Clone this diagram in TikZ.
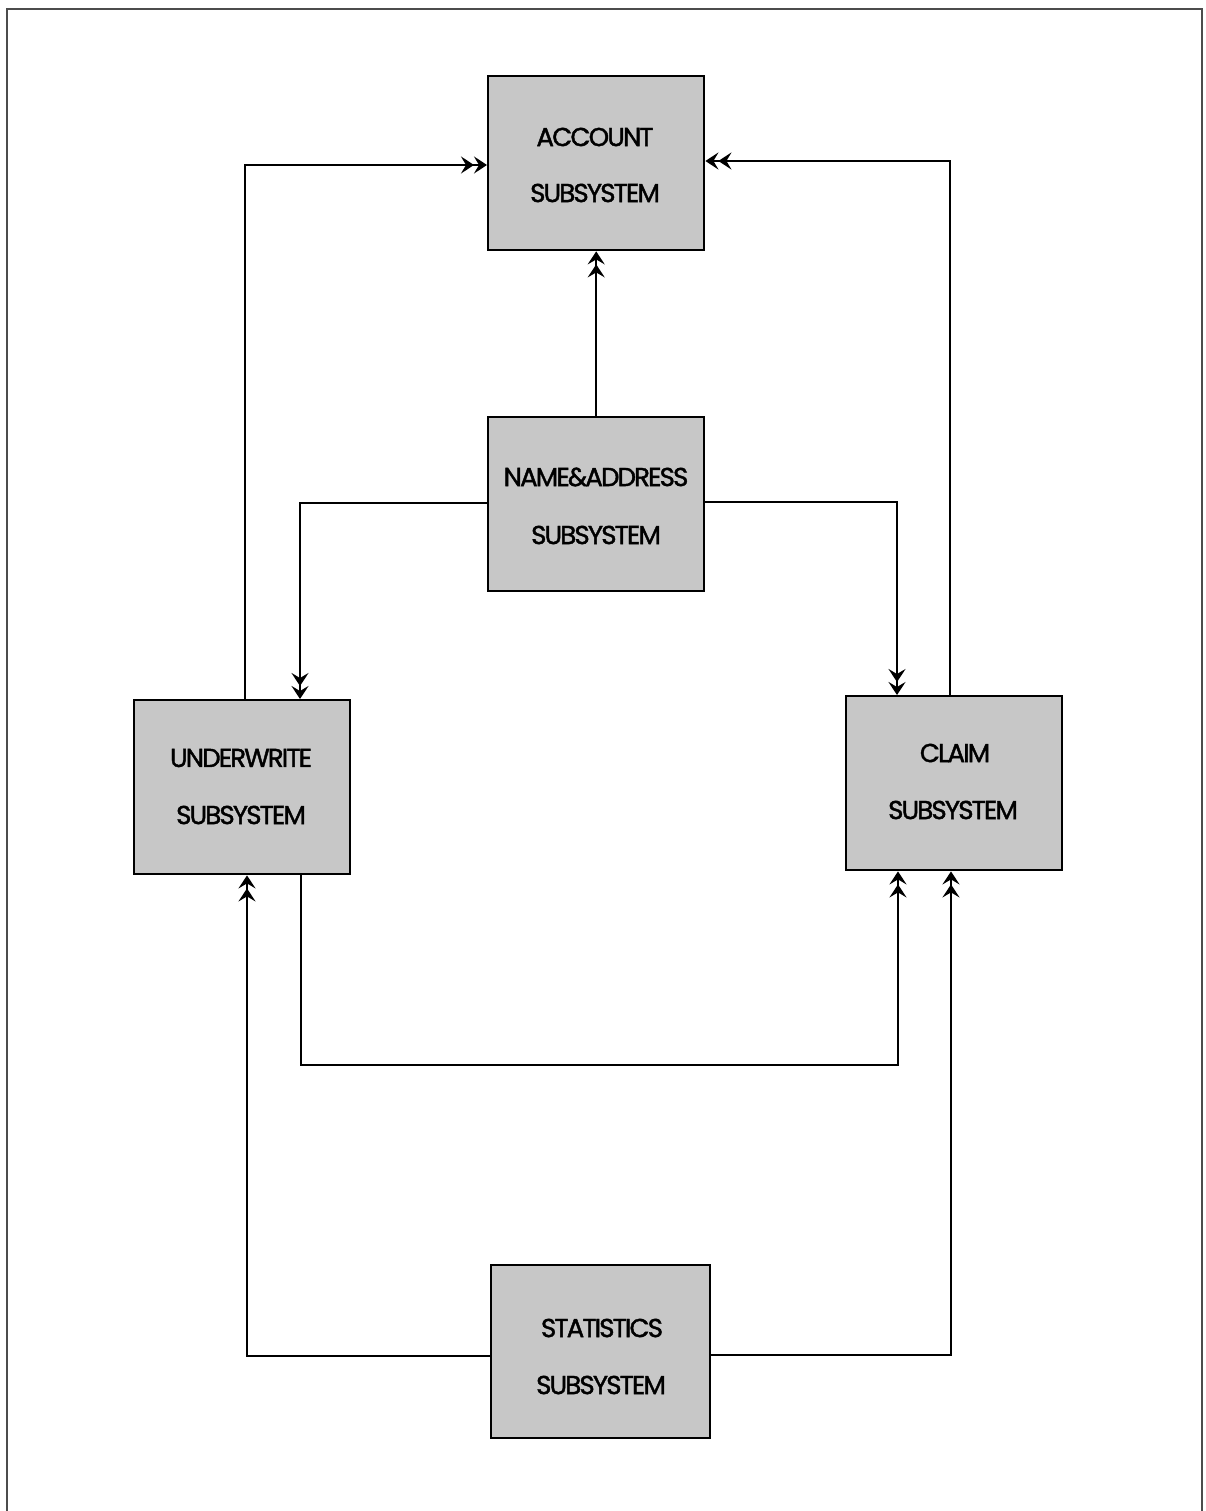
\documentclass[tikz,border=0pt]{standalone}
\usepackage{fontspec}
\setmainfont{Poppins}[FakeBold=1.6]
\usetikzlibrary{arrows.meta}
\begin{document}
\begin{tikzpicture}[x=1pt,y=-1pt,
  sbox/.style={draw=black,line width=2.4pt,fill=black!22,minimum width=216pt,minimum height=174pt,inner sep=0pt,anchor=north west},
  lbl/.style={font=\fontsize{26}{26}\selectfont\addfontfeatures{LetterSpace=-7},text=black},
  tip/.style={},
  conn/.style={line width=2pt,-{Stealth[length=13pt,width=17pt,inset=5pt,sep=0pt] Stealth[length=13pt,width=17pt,inset=5pt]}}]
\useasboundingbox (0,0) rectangle (1206,1511);
\draw[line width=2pt,black!70] (7,1511) -- (7,9) -- (1202,9) -- (1202,1511);
\node[sbox] (acc) at (487,75) {};
\node[sbox] (nam) at (487,416) {};
\node[sbox] (und) at (133,699) {};
\node[sbox] (clm) at (845,695) {};
\node[sbox,minimum width=219pt,minimum height=173pt] (sta) at (490,1264) {};
\node[lbl] (t1) at (595,137) {ACCOUNT};
\node[lbl] (t2) at (595,193) {SUBSYSTEM};
\node[lbl] (t3) at (596,477) {NAME\&ADDRESS};
\node[lbl] (t4) at (596,535) {SUBSYSTEM};
\node[lbl] (t5) at (241,758) {UNDERWRITE};
\node[lbl] (t6) at (241,815) {SUBSYSTEM};
\node[lbl] (t7) at (955,753) {CLAIM};
\node[lbl] (t8) at (953,810) {SUBSYSTEM};
\node[lbl] (t9) at (602,1328) {STATISTICS};
\node[lbl] (t10) at (601,1385) {SUBSYSTEM};
\coordinate (a1) at (245,165);
\coordinate (a2) at (950,161);
\coordinate (n1) at (300,503);
\coordinate (n2) at (897,502);
\coordinate (u1) at (301,1065);
\coordinate (u2) at (898,1065);
\coordinate (s1) at (247,1356);
\coordinate (s2) at (951,1355);
\draw[conn] (und.north west -| a1) -- (a1) -- (acc.west |- a1);
\draw[conn] (clm.north west -| a2) -- (a2) -- (acc.east |- a2);
\draw[conn] (nam.north) -- (acc.south);
\draw[conn] (nam.west |- n1) -- (n1) -- (und.north -| n1);
\draw[conn] (nam.east |- n2) -- (n2) -- (clm.north -| n2);
\draw[conn] (und.south -| u1) -- (u1) -- (u2) -- (clm.south -| u2);
\draw[conn] (sta.west |- s1) -- (s1) -- (und.south -| s1);
\draw[conn] (sta.east |- s2) -- (s2) -- (clm.south -| s2);
\end{tikzpicture}
\end{document}
